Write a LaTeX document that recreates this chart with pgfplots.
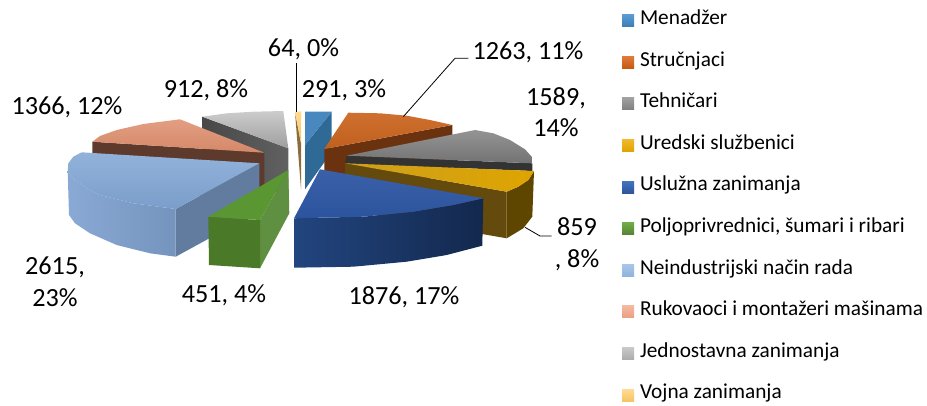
\documentclass[border=0pt]{standalone}
\usepackage{fontspec}
\setmainfont{Carlito}
\usepackage{pgfplots}
\pgfplotsset{compat=1.18}
\definecolor{c1}{HTML}{5B9BD5}\definecolor{c1b}{HTML}{3C7DB5}
\definecolor{c2}{HTML}{E07B3C}\definecolor{c2b}{HTML}{C55A11}
\definecolor{c3}{HTML}{A0A0A0}\definecolor{c3b}{HTML}{7F7F7F}
\definecolor{c4}{HTML}{F2B82E}\definecolor{c4b}{HTML}{E0A400}
\definecolor{c5}{HTML}{4472C4}\definecolor{c5b}{HTML}{2F5597}
\definecolor{c6}{HTML}{70AD47}\definecolor{c6b}{HTML}{548235}
\definecolor{c7}{HTML}{A9C6E8}\definecolor{c7b}{HTML}{8FB4DE}
\definecolor{c8}{HTML}{F4B8A0}\definecolor{c8b}{HTML}{EB9E82}
\definecolor{c9}{HTML}{C9C9C9}\definecolor{c9b}{HTML}{ABABAB}
\definecolor{c10}{HTML}{FFDB94}\definecolor{c10b}{HTML}{F5C564}
\begin{document}
\begin{tikzpicture}
\begin{axis}[
  scale only axis, width=927pt, height=405pt,
  xmin=0, xmax=927, ymin=0, ymax=405, y dir=reverse,
  axis lines=none, clip=false, no markers,
  legend image code/.code={\path[#1,draw=none] (0pt,-6pt) rectangle (12pt,6pt);},
  legend style={draw=none, fill=none, at={(axis cs:622,11.5)}, anchor=north west,
    font=\fontsize{21.3}{24}\selectfont, inner sep=0pt, outer sep=0pt,
    row sep=23.3pt, /tikz/column sep=6pt,
    nodes={text height=13pt, text depth=5.3pt, inner sep=0pt}},
  legend cell align=left,
]
\addlegendimage{top color=c1,bottom color=c1b}\addlegendentry{Menadžer}
\addlegendimage{top color=c2,bottom color=c2b}\addlegendentry{Stručnjaci}
\addlegendimage{top color=c3,bottom color=c3b}\addlegendentry{Tehničari}
\addlegendimage{top color=c4,bottom color=c4b}\addlegendentry{Uredski službenici}
\addlegendimage{top color=c5,bottom color=c5b}\addlegendentry{Uslužna zanimanja}
\addlegendimage{top color=c6,bottom color=c6b}\addlegendentry{{Poljoprivrednici, šumari i ribari}}
\addlegendimage{top color=c7,bottom color=c7b}\addlegendentry{Neindustrijski način rada}
\addlegendimage{top color=c8,bottom color=c8b}\addlegendentry{Rukovaoci i montažeri mašinama}
\addlegendimage{top color=c9,bottom color=c9b}\addlegendentry{Jednostavna zanimanja}
\addlegendimage{top color=c10,bottom color=c10b}\addlegendentry{Vojna zanimanja}

% Jednostavna zanimanja
\addplot[forget plot,draw=none,left color=black!72,right color=black!62] coordinates {(202.3,116.7)(288.3,148.3)(288.3,197)(202.3,165)} --cycle;
\addplot[forget plot,draw=none,top color=black!20,bottom color=black!38] coordinates {(202.3,116.7)(226.7,113.3)(253.3,111.7)(283.3,111)(288.3,148.3)} --cycle;
% Rukovaoci
\addplot[forget plot,draw=none,fill={rgb,255:red,94;green,58;blue,45}] coordinates {(92.3,141.7)(264.3,152.7)(264.3,200)(92.3,189)} --cycle;
\addplot[forget plot,draw=none,top color={rgb,255:red,227;green,158;blue,130},bottom color={rgb,255:red,212;green,136;blue,104}] coordinates {(92.3,141.7)(100,136)(116.7,130)(143.3,124)(180,119.3)(264.3,152.7)} --cycle;
% Neindustrijski
\addplot[forget plot,draw=none,fill={rgb,255:red,97;green,124;blue,158}] coordinates {(175.7,209)(259.3,163.3)(259.3,211)(175.7,256.7)} --cycle;
\addplot[forget plot,draw=none,left color={rgb,255:red,138;green,170;blue,213},right color={rgb,255:red,116;green,148;blue,190}] coordinates {(67.7,171.7)(75,180)(90,190)(100,195)(133.3,203.3)(175.7,209)(175.7,256.7)(150,253.3)(116.7,245)(90,233.3)(75,223.3)(69,215)} --cycle;
\addplot[forget plot,draw=none,top color={rgb,255:red,146;green,178;blue,218},bottom color={rgb,255:red,122;green,158;blue,202}] coordinates {(81.7,152.3)(259.3,163.3)(175.7,209)(133.3,203.3)(100,195)(90,190)(75,180)(67.7,171.7)(68.3,163.3)(73.3,156.7)} --cycle;
% Poljoprivrednici
\addplot[forget plot,draw=none,fill={rgb,255:red,95;green,143;blue,64}] coordinates {(288.3,170)(289.3,213.3)(260,268.3)(260,220)} --cycle;
\addplot[forget plot,draw=none,fill={rgb,255:red,74;green,122;blue,40}] coordinates {(208.3,216.7)(260,220)(260,268.3)(209,265)} --cycle;
\addplot[forget plot,draw=none,fill={rgb,255:red,90;green,150;blue,50}] coordinates {(288.3,170)(208.3,216.7)(260,220)} --cycle;
% Vojna
\addplot[forget plot,draw=none,fill={rgb,255:red,138;green,109;blue,59}] coordinates {(295,112)(301,143.3)(301,189.3)} --cycle;
\addplot[forget plot,draw=none,top color=c10,bottom color=c10b] coordinates {(295,112)(301.3,111.3)(301,143.3)} --cycle;
% Menadzer
\addplot[forget plot,draw=none,fill={rgb,255:red,47;green,106;blue,150}] coordinates {(331.7,111.7)(331.7,152)(305,189.3)(305,145)} --cycle;
\addplot[forget plot,draw=none,fill={rgb,255:red,72;green,136;blue,190}] coordinates {(305,111.7)(331.7,111.7)(305,145)} --cycle;
% Strucnjaci
\addplot[forget plot,draw=none,fill={rgb,255:red,107;green,50;blue,16}] coordinates {(324.3,149)(452.3,125)(452.3,173)(324.3,197)} --cycle;
\addplot[forget plot,draw=none,top color={rgb,255:red,208;green,112;blue,48},bottom color={rgb,255:red,192;green,96;blue,30}] coordinates {(348.3,112.7)(380,113.3)(406.7,115.7)(430,120)(452.3,125)(324.3,149)} --cycle;
% Tehnicari
\addplot[forget plot,draw=none,fill={rgb,255:red,51;green,51;blue,51}] coordinates {(346.7,155.7)(532.3,163.3)(532.3,171)(345,163.3)} --cycle;
\addplot[forget plot,draw=none,top color=black!42,bottom color=black!55] coordinates {(346.7,155.7)(475,130)(493.3,133.3)(510,140)(525,149.3)(531.7,156.7)(532.3,163.3)} --cycle;
% Uredski
\addplot[forget plot,draw=none,fill={rgb,255:red,100;green,74;blue,12}] coordinates {(345,163.3)(506.7,191.7)(506.7,238.3)(345,210)} --cycle;
\addplot[forget plot,draw=none,fill={rgb,255:red,94;green,70;blue,0}] coordinates {(506.7,191.7)(518.3,186.7)(528.3,180)(534,171)(532.3,216.7)(523.3,228.3)(506.7,238.3)} --cycle;
\addplot[forget plot,draw=none,left color={rgb,255:red,204;green,160;blue,30},right color={rgb,255:red,222;green,164;blue,0}] coordinates {(345,163.3)(534,171)(528.3,180)(518.3,186.7)(506.7,191.7)} --cycle;
% Usluzna
\addplot[forget plot,draw=none,left color={rgb,255:red,34;green,69;blue,127},right color={rgb,255:red,19;green,40;blue,77}] coordinates {(294,218.3)(363.3,216.7)(413.3,211.7)(453.3,205)(483.3,198.3)(482.3,245.7)(446.7,255)(406.7,261.7)(353.3,266.7)(294,267.7)} --cycle;
\addplot[forget plot,draw=none,top color={rgb,255:red,58;green,96;blue,168},bottom color={rgb,255:red,44;green,84;blue,158}] coordinates {(320,169.3)(483.3,198.3)(453.3,205)(413.3,211.7)(363.3,216.7)(294,218.3)} --cycle;

% Leader lines
\addplot[forget plot,black,line width=0.8pt] coordinates {(296.7,63)(296.7,112)};
\addplot[forget plot,black,line width=0.8pt] coordinates {(403.3,116.7)(455,58.3)(468.3,58.3)};
\addplot[forget plot,black,line width=0.8pt] coordinates {(525,227.3)(540,236)(551.7,236)};

% Data labels
\tikzset{lab/.style={font=\fontsize{26.2}{31.5}\selectfont, align=center, inner sep=0pt}}
\node[lab] at (axis cs:303.5,49) {64, 0\%};
\node[lab] at (axis cs:344,90) {291, 3\%};
\node[lab] at (axis cs:528,52) {1263, 11\%};
\node[lab] at (axis cs:556,112) {1589,\\14\%};
\node[lab] at (axis cs:577,244) {859\\, 8\%};
\node[lab] at (axis cs:404,297) {1876, 17\%};
\node[lab] at (axis cs:224,295) {451, 4\%};
\node[lab] at (axis cs:55,282) {2615,\\23\%};
\node[lab] at (axis cs:67,107) {1366, 12\%};
\node[lab] at (axis cs:206,90) {912, 8\%};
\end{axis}
\pgfresetboundingbox
\path[use as bounding box] (0pt,0pt) rectangle (927pt,405pt);
\end{tikzpicture}
\end{document}
